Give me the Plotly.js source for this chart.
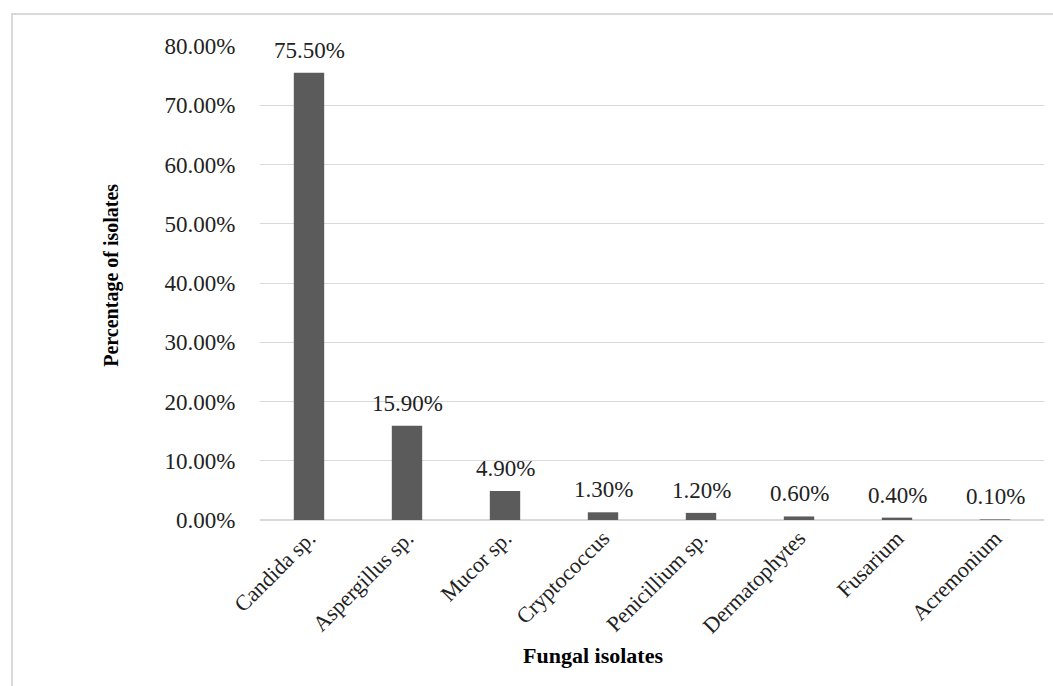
<!DOCTYPE html>
<html>
<head>
<meta charset="utf-8">
<script src="https://cdn.plot.ly/plotly-3.0.1.min.js"></script>
<style>html,body{margin:0;padding:0;background:#fff;}#chart{width:1053px;height:686px;}</style>
</head>
<body>
<div id="chart"></div>
<script>
const categories = ["Candida sp.", "Aspergillus sp.", "Mucor sp.", "Cryptococcus", "Penicillium sp.", "Dermatophytes", "Fusarium", "Acremonium"];
const percentages = [75.5, 15.9, 4.9, 1.3, 1.2, 0.6, 0.4, 0.1];
const valueLabels = ["75.50%", "15.90%", "4.90%", "1.30%", "1.20%", "0.60%", "0.40%", "0.10%"];
const xTitle = "Fungal isolates";
const yTitle = "Percentage of isolates";

const FONT = "Liberation Serif, Times New Roman, serif";
const TXT = "#222222";

const trace = {
  type: "bar",
  x: categories,
  y: percentages,
  marker: { color: "#5b5b5b" },
  hoverinfo: "x+y"
};

const annotations = categories.map((c, i) => ({
  x: c, y: percentages[i], xref: "x", yref: "y",
  text: valueLabels[i], showarrow: false,
  yanchor: "bottom", yshift: 8,
  font: { family: FONT, size: 23, color: TXT }
}));
annotations.push({
  xref: "paper", yref: "paper", x: 0.425, y: -0.285,
  text: "<b>" + xTitle + "</b>", showarrow: false,
  xanchor: "center", yanchor: "middle",
  font: { family: FONT, size: 22, color: "#000" }
});
annotations.push({
  xref: "paper", yref: "paper", x: -0.189, y: 0.517,
  text: "<b>" + yTitle + "</b>", showarrow: false, textangle: -90,
  xanchor: "center", yanchor: "middle",
  font: { family: FONT, size: 20, color: "#000" }
});

const layout = {
  width: 1053, height: 686,
  margin: { l: 260, r: 9, t: 46, b: 166 },
  paper_bgcolor: "#fff", plot_bgcolor: "#fff",
  showlegend: false,
  bargap: 0.69,
  font: { family: FONT, size: 21, color: TXT },
  xaxis: {
    type: "category",
    tickangle: -45,
    showgrid: false, showline: false, ticks: "",
    tickfont: { family: FONT, size: 22, color: TXT },
    automargin: false
  },
  yaxis: {
    range: [0, 80], dtick: 10, tick0: 0,
    tickformat: ".2f", ticksuffix: "%",
    showgrid: true, gridcolor: "#d9d9d9", gridwidth: 1,
    zeroline: true, zerolinecolor: "#d9d9d9", zerolinewidth: 1.5,
    showline: false, ticks: "outside", ticklen: 19, tickcolor: "rgba(0,0,0,0)",
    tickfont: { family: FONT, size: 23, color: TXT },
    automargin: false
  },
  annotations: annotations,
  shapes: [{
    type: "rect", xref: "paper", yref: "paper",
    x0: (12 - 260) / 784, x1: (1060 - 260) / 784,
    y0: (520 - 700) / 474, y1: (520 - 14) / 474,
    line: { color: "#d9d9d9", width: 2 }, fillcolor: "rgba(0,0,0,0)"
  }]
};

Plotly.newPlot("chart", [trace], layout, { displayModeBar: false, staticPlot: true });
</script>
</body>
</html>
